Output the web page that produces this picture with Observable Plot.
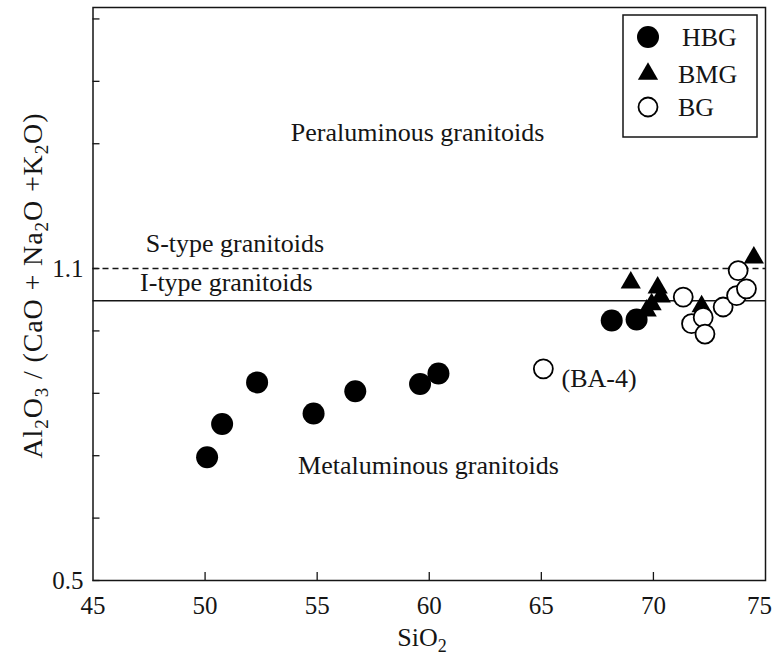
<!DOCTYPE html>
<html>
<head>
<meta charset="utf-8">
<script src="https://cdn.jsdelivr.net/npm/d3@7"></script>
<script src="https://cdn.jsdelivr.net/npm/@observablehq/plot@0.6"></script>
<style>
  body { margin: 0; background: #fff; }
  #chart { position: relative; width: 774px; height: 657px; }
</style>
</head>
<body>
<div id="chart"></div>
<script>
// ---- data ----
const hbgSiO2 = [50.09, 50.76, 52.32, 54.84, 56.70, 59.59, 60.41, 68.14, 69.25];
const hbgASI  = [0.737, 0.801, 0.881, 0.821, 0.864, 0.878, 0.898, 1.000, 1.002];

const bmgSiO2 = [68.99, 70.19, 70.33, 69.92, 69.70, 72.15, 74.48];
const bmgASI  = [1.073, 1.063, 1.046, 1.031, 1.019, 1.027, 1.121];

const bgSiO2 = [65.09, 71.33, 71.70, 72.22, 72.30, 73.11, 73.71, 74.15, 73.78];
const bgASI  = [0.907, 1.045, 0.994, 1.006, 0.974, 1.026, 1.048, 1.061, 1.096];

const xTicks = [45, 50, 55, 60, 65, 70, 75];
const yTickMarks = [0.5, 0.62, 0.74, 0.86, 0.98, 1.1, 1.34, 1.46, 1.58];
const yTickLabels = [0.5, 1.1];

const sTypeLine = 1.1;
const iTypeLine = 1.038;

const centerLabels = [
  {text: "Peraluminous granitoids", x: 59.48, y: 1.3615}
];
const startLabels = [
  {text: "S-type granitoids", x: 47.35, y: 1.148},
  {text: "I-type granitoids", x: 47.1, y: 1.073},
  {text: "Metaluminous granitoids", x: 54.15, y: 0.721},
  {text: "(BA-4)", x: 65.9, y: 0.889}
];

const legendItems = [
  {name: "HBG", symbol: "circle", fill: "black"},
  {name: "BMG", symbol: "triangle", fill: "black"},
  {name: "BG", symbol: "circle", fill: "none"}
];

const toRows = (xs, ys) => xs.map((x, i) => ({x, y: ys[i]}));
const hbg = toRows(hbgSiO2, hbgASI);
const bmg = toRows(bmgSiO2, bmgASI);
const bg = toRows(bgSiO2, bgASI);

const FONT = "'Liberation Serif', 'DejaVu Serif', serif";
const INK = "#151515";

const plot = Plot.plot({
  width: 774,
  height: 657,
  marginLeft: 92.5,
  marginRight: 9,
  marginTop: 7,
  marginBottom: 77,
  style: {fontFamily: FONT, fontSize: "25px", color: INK, background: "white"},
  x: {domain: [45, 75]},
  y: {domain: [0.5, 1.602]},
  marks: [
    Plot.ruleY([sTypeLine], {stroke: INK, strokeWidth: 1.3, strokeDasharray: "6,4"}),
    Plot.ruleY([iTypeLine], {stroke: INK, strokeWidth: 1.3}),
    // inward ticks
    Plot.ruleY(yTickMarks, {x1: 45, x2: 45 + 7 / 22.44, stroke: INK, strokeWidth: 1.3}),
    Plot.ruleX(xTicks.slice(1, -1), {y1: 0.5, y2: 0.5 + 8 * 0.001923, stroke: INK, strokeWidth: 1.3}),
    Plot.axisX({ticks: xTicks.slice(0, -1), tickSize: 0, tickPadding: 16, label: null, fontSize: 25, tickFormat: d => String(d)}),
    Plot.axisX({ticks: xTicks.slice(-1), tickSize: 0, tickPadding: 16, label: null, fontSize: 25, dx: -6, tickFormat: d => String(d)}),
    Plot.axisY({ticks: yTickLabels, tickSize: 0, tickPadding: 9.5, label: null, fontSize: 25, tickFormat: d => String(d)}),
    Plot.text(centerLabels, {x: "x", y: "y", text: "text", textAnchor: "middle", fontSize: 26, fill: INK, fontFamily: FONT}),
    Plot.text(startLabels, {x: "x", y: "y", text: "text", textAnchor: "start", fontSize: 26, fill: INK, fontFamily: FONT}),
    Plot.dot(hbg, {x: "x", y: "y", r: 11, fill: "black", symbol: "circle"}),
    Plot.dot(bmg, {x: "x", y: "y", r: 7.5, fill: "black", symbol: "triangle"}),
    Plot.dot(bg, {x: "x", y: "y", r: 9.5, fill: "white", stroke: "black", strokeWidth: 1.8, symbol: "circle"}),
    Plot.frame({stroke: INK, strokeWidth: 1.5})
  ]
});

document.getElementById("chart").appendChild(plot);

const svg = d3.select(plot);

// Axis titles with subscripts
const yl = svg.append("text")
  .attr("transform", "translate(42,286) rotate(-90)")
  .attr("text-anchor", "middle")
  .attr("font-family", FONT)
  .attr("font-size", 28)
  .attr("fill", INK)
  .attr("textLength", 345)
  .attr("lengthAdjust", "spacing");
const sub = (sel, t) => sel.append("tspan").attr("font-size", 19).attr("dy", 6).text(t);
const nor = (sel, t) => sel.append("tspan").attr("dy", -6).text(t);
yl.append("tspan").text("Al");
sub(yl, "2"); nor(yl, "O"); sub(yl, "3"); nor(yl, " / (CaO + Na"); sub(yl, "2"); nor(yl, "O +K"); sub(yl, "2"); nor(yl, "O)");

const xl = svg.append("text")
  .attr("x", 422).attr("y", 646)
  .attr("text-anchor", "middle")
  .attr("font-family", FONT)
  .attr("font-size", 26)
  .attr("fill", INK);
xl.append("tspan").text("SiO");
xl.append("tspan").attr("font-size", 18).attr("dy", 6).text("2");

// Legend
const lg = svg.append("g").attr("transform", "translate(623,15)");
lg.append("rect").attr("width", 134).attr("height", 122).attr("fill", "white").attr("stroke", INK).attr("stroke-width", 1.5);
const legendY = [22, 59, 92];
legendItems.forEach((d, i) => {
  const cy = legendY[i];
  const sym = d.symbol === "triangle"
    ? d3.symbol(d3.symbolTriangle, Math.PI * 7.5 * 7.5)()
    : d3.symbol(d3.symbolCircle, Math.PI * (d.fill === "none" ? 9.5 : 11) ** 2)();
  lg.append("path")
    .attr("d", sym)
    .attr("transform", `translate(25,${cy})`)
    .attr("fill", d.fill === "none" ? "white" : d.fill)
    .attr("stroke", d.fill === "none" ? "black" : "none")
    .attr("stroke-width", 1.8);
  lg.append("text")
    .attr("x", d.name === "HBG" ? 59 : 55)
    .attr("y", cy)
    .attr("dy", "0.35em")
    .attr("text-anchor", "start")
    .attr("font-family", FONT)
    .attr("font-size", 26)
    .attr("fill", INK)
    .text(d.name);
});
</script>
</body>
</html>
